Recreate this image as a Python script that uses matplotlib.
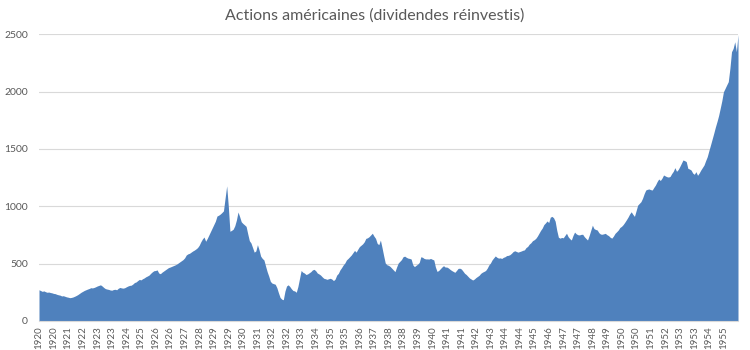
import matplotlib.pyplot as plt
import numpy as np
import pandas as pd

plt.rcParams['font.family'] = ['Lato', 'DejaVu Sans']

title = "Actions américaines (dividendes réinvestis)"
first_month = "1920-01-01"
label_step = 9  # one label every 9 months, like the original axis

# monthly values, one list per year
y1920 = [272, 265, 258, 262, 255, 250, 252, 248, 245, 240, 238, 232]
y1921 = [228, 225, 218, 220, 215, 210, 207, 203, 205, 209, 215, 222]
y1922 = [230, 240, 250, 258, 266, 272, 278, 283, 290, 288, 292, 298]
y1923 = [305, 310, 315, 305, 292, 282, 278, 275, 270, 268, 274, 276]
y1924 = [272, 285, 292, 288, 286, 290, 298, 305, 310, 312, 322, 335]
y1925 = [340, 352, 362, 358, 368, 375, 385, 392, 400, 415, 428, 438]
y1926 = [440, 445, 418, 412, 425, 435, 445, 455, 465, 470, 476, 482]
y1927 = [488, 495, 505, 515, 525, 535, 550, 575, 585, 590, 600, 610]
y1928 = [618, 628, 640, 660, 690, 715, 732, 695, 720, 750, 780, 810]
y1929 = [840, 870, 915, 922, 932, 945, 960, 1070, 1178, 1000, 782, 790]
y1930 = [800, 830, 880, 950, 910, 865, 850, 838, 825, 760, 700, 680]
y1931 = [640, 600, 610, 665, 620, 565, 545, 532, 480, 430, 390, 345]
y1932 = [330, 325, 320, 290, 245, 205, 190, 185, 260, 305, 315, 300]
y1933 = [280, 265, 262, 250, 300, 370, 440, 425, 418, 405, 410, 420]
y1934 = [430, 445, 450, 438, 418, 410, 400, 385, 372, 368, 363, 368]
y1935 = [372, 365, 352, 365, 400, 415, 445, 465, 488, 505, 532, 545]
y1936 = [560, 575, 595, 615, 600, 625, 648, 660, 672, 690, 720, 725]
y1937 = [735, 750, 765, 740, 720, 677, 665, 705, 640, 570, 505, 490]
y1938 = [485, 475, 460, 445, 430, 470, 505, 520, 535, 560, 565, 555]
y1939 = [548, 545, 540, 490, 474, 485, 495, 510, 560, 555, 545, 541]
y1940 = [541, 540, 545, 538, 532, 470, 432, 440, 455, 470, 482, 470]
y1941 = [470, 462, 450, 440, 432, 424, 440, 458, 460, 453, 435, 416]
y1942 = [405, 390, 375, 366, 357, 365, 378, 388, 398, 415, 425, 432]
y1943 = [440, 460, 488, 505, 532, 550, 567, 555, 548, 550, 545, 555]
y1944 = [560, 570, 572, 578, 590, 605, 612, 606, 600, 605, 610, 616]
y1945 = [620, 640, 650, 670, 682, 700, 708, 720, 740, 765, 790, 810]
y1946 = [840, 855, 872, 858, 905, 912, 900, 870, 790, 730, 722, 728]
y1947 = [725, 745, 765, 735, 718, 706, 745, 775, 760, 752, 750, 755]
y1948 = [756, 735, 720, 706, 745, 790, 835, 805, 798, 793, 770, 758]
y1949 = [756, 760, 764, 752, 744, 730, 722, 740, 764, 778, 793, 815]
y1950 = [825, 840, 860, 882, 905, 932, 952, 930, 912, 960, 1010, 1025]
y1951 = [1040, 1070, 1110, 1142, 1148, 1151, 1145, 1142, 1165, 1186, 1215, 1238]
y1952 = [1225, 1245, 1273, 1265, 1258, 1255, 1260, 1285, 1305, 1337, 1305, 1320]
y1953 = [1346, 1375, 1404, 1398, 1390, 1331, 1325, 1316, 1290, 1279, 1302, 1270]
y1954 = [1290, 1316, 1338, 1360, 1398, 1433, 1485, 1534, 1585, 1636, 1690, 1738]
y1955 = [1790, 1854, 1920, 1999, 2028, 2058, 2087, 2203, 2348, 2377, 2435, 2348]
y1956 = [2495]

values = (y1920 + y1921 + y1922 + y1923 + y1924 + y1925 + y1926 + y1927 + y1928
          + y1929 + y1930 + y1931 + y1932 + y1933 + y1934 + y1935 + y1936 + y1937
          + y1938 + y1939 + y1940 + y1941 + y1942 + y1943 + y1944 + y1945 + y1946
          + y1947 + y1948 + y1949 + y1950 + y1951 + y1952 + y1953 + y1954 + y1955
          + y1956)

y_ticks = [0, 500, 1000, 1500, 2000, 2500]

dates = pd.date_range(first_month, periods=len(values), freq="MS")
x = np.arange(len(values))

text_color = "#595959"
fill_color = "#4f81bd"

fig = plt.figure(figsize=(7.5, 3.5), dpi=100)
ax = fig.add_axes([0.052, 0.083, 0.932, 0.819])

ax.fill_between(x, values, 0, color=fill_color, linewidth=0, zorder=2)

ax.set_xlim(0, len(values) - 1)
ax.set_ylim(0, 2500)
ax.set_yticks(y_ticks)
ax.set_yticklabels([str(t) for t in y_ticks])

# the last month (Jan 1956) carries no label in the original
tick_pos = x[:-1][::label_step]
ax.set_xticks(tick_pos)
ax.set_xticklabels([str(dates[i].year) for i in tick_pos], rotation=90)

ax.grid(axis='y', color="#d9d9d9", linewidth=0.8, zorder=0)
ax.set_axisbelow(True)
for side in ['top', 'right', 'left']:
    ax.spines[side].set_visible(False)
ax.spines['bottom'].set_color("#d9d9d9")
ax.tick_params(axis='both', length=0, colors=text_color)
ax.tick_params(axis='y', pad=8, labelsize=7.5)
ax.tick_params(axis='x', pad=4, labelsize=7)

fig.text(0.5, 0.955, title, ha='center', va='center', fontsize=11.5, color=text_color)

fig.savefig("out.png", dpi=100)
